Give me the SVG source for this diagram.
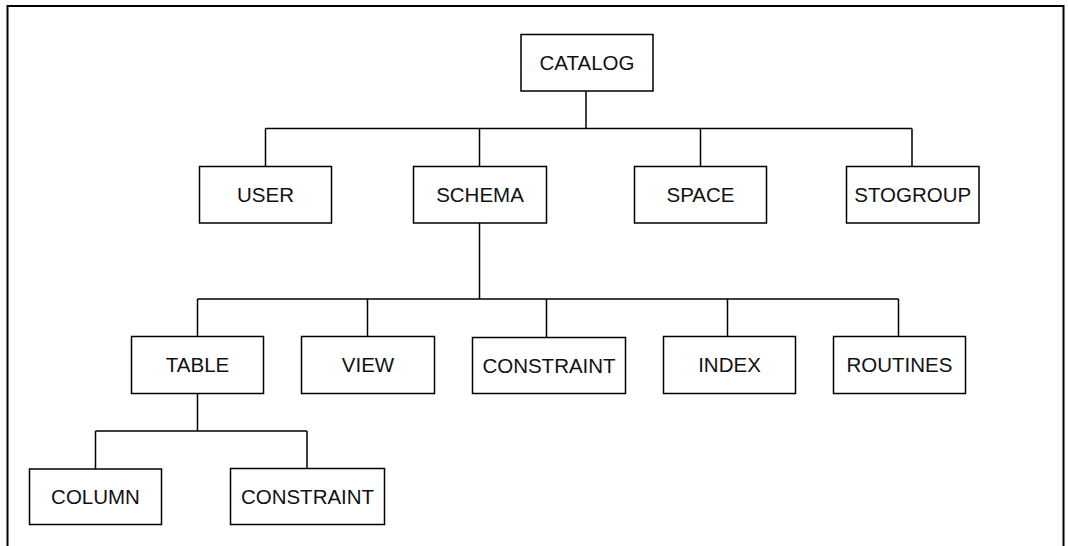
<svg xmlns="http://www.w3.org/2000/svg" width="1068" height="546" viewBox="0 0 1068 546">
  <style>
    .box { fill: #fff; stroke: #000; stroke-width: 1.5; }
    .lbl { font-family: "Liberation Sans", Arial, sans-serif; font-size: 20.5px; fill: #111; text-anchor: middle; }
    .wire { fill: none; stroke: #000; stroke-width: 1.5; }
    .frame { fill: none; stroke: #000; stroke-width: 2; }
  </style>
  <rect width="1068" height="546" fill="#fff"/>
  <!-- open frame around the hierarchy -->
  <path class="frame" d="M7.5,546 V6 H1063.5 V546"/>

  <g id="connectors">
    <!-- CATALOG to its children -->
    <path class="wire" d="M586,91 V128.5 M265.5,128.5 H912 M265.5,128.5 V166.5 M479.5,128.5 V166.5 M700.5,128.5 V166.5 M912,128.5 V166.5"/>
    <!-- SCHEMA to its children -->
    <path class="wire" d="M479.5,223 V299 M197.5,299 H898.5 M197.5,299 V336.5 M367.5,299 V336.5 M546.5,299 V337.5 M727.5,299 V336.5 M898.5,299 V336.5"/>
    <!-- TABLE to its children -->
    <path class="wire" d="M197.5,393.5 V431 M95.5,431 H307 M95.5,431 V469 M307,431 V468.5"/>
  </g>

  <g id="catalog"><rect class="box" x="521" y="34.5" width="132" height="56.5"/><text class="lbl" x="587" y="70">CATALOG</text></g>

  <g id="user"><rect class="box" x="199.5" y="166.5" width="132" height="56.5"/><text class="lbl" x="265.5" y="202.3">USER</text></g>
  <g id="schema"><rect class="box" x="413.5" y="166.5" width="133" height="56.5"/><text class="lbl" x="480" y="202.3">SCHEMA</text></g>
  <g id="space"><rect class="box" x="634.5" y="166.5" width="132" height="56.5"/><text class="lbl" x="700.5" y="202.3">SPACE</text></g>
  <g id="stogroup"><rect class="box" x="846.5" y="166.5" width="132.5" height="56.5"/><text class="lbl" x="912.7" y="202.3">STOGROUP</text></g>

  <g id="table"><rect class="box" x="131.5" y="336.5" width="132" height="57"/><text class="lbl" x="197.5" y="372.3">TABLE</text></g>
  <g id="view"><rect class="box" x="301.5" y="336.5" width="133" height="57"/><text class="lbl" x="368" y="372.3">VIEW</text></g>
  <g id="constraint"><rect class="box" x="472.5" y="337.5" width="153" height="56"/><text class="lbl" x="549" y="372.8">CONSTRAINT</text></g>
  <g id="index"><rect class="box" x="663.5" y="336.5" width="132" height="57"/><text class="lbl" x="729.5" y="372.3">INDEX</text></g>
  <g id="routines"><rect class="box" x="833.5" y="336.5" width="132" height="57"/><text class="lbl" x="899.5" y="372.3">ROUTINES</text></g>

  <g id="column"><rect class="box" x="29.5" y="469" width="132" height="55.5"/><text class="lbl" x="95.5" y="504">COLUMN</text></g>
  <g id="table-constraint"><rect class="box" x="230.5" y="468.5" width="154" height="56"/><text class="lbl" x="307.5" y="504">CONSTRAINT</text></g>
</svg>
